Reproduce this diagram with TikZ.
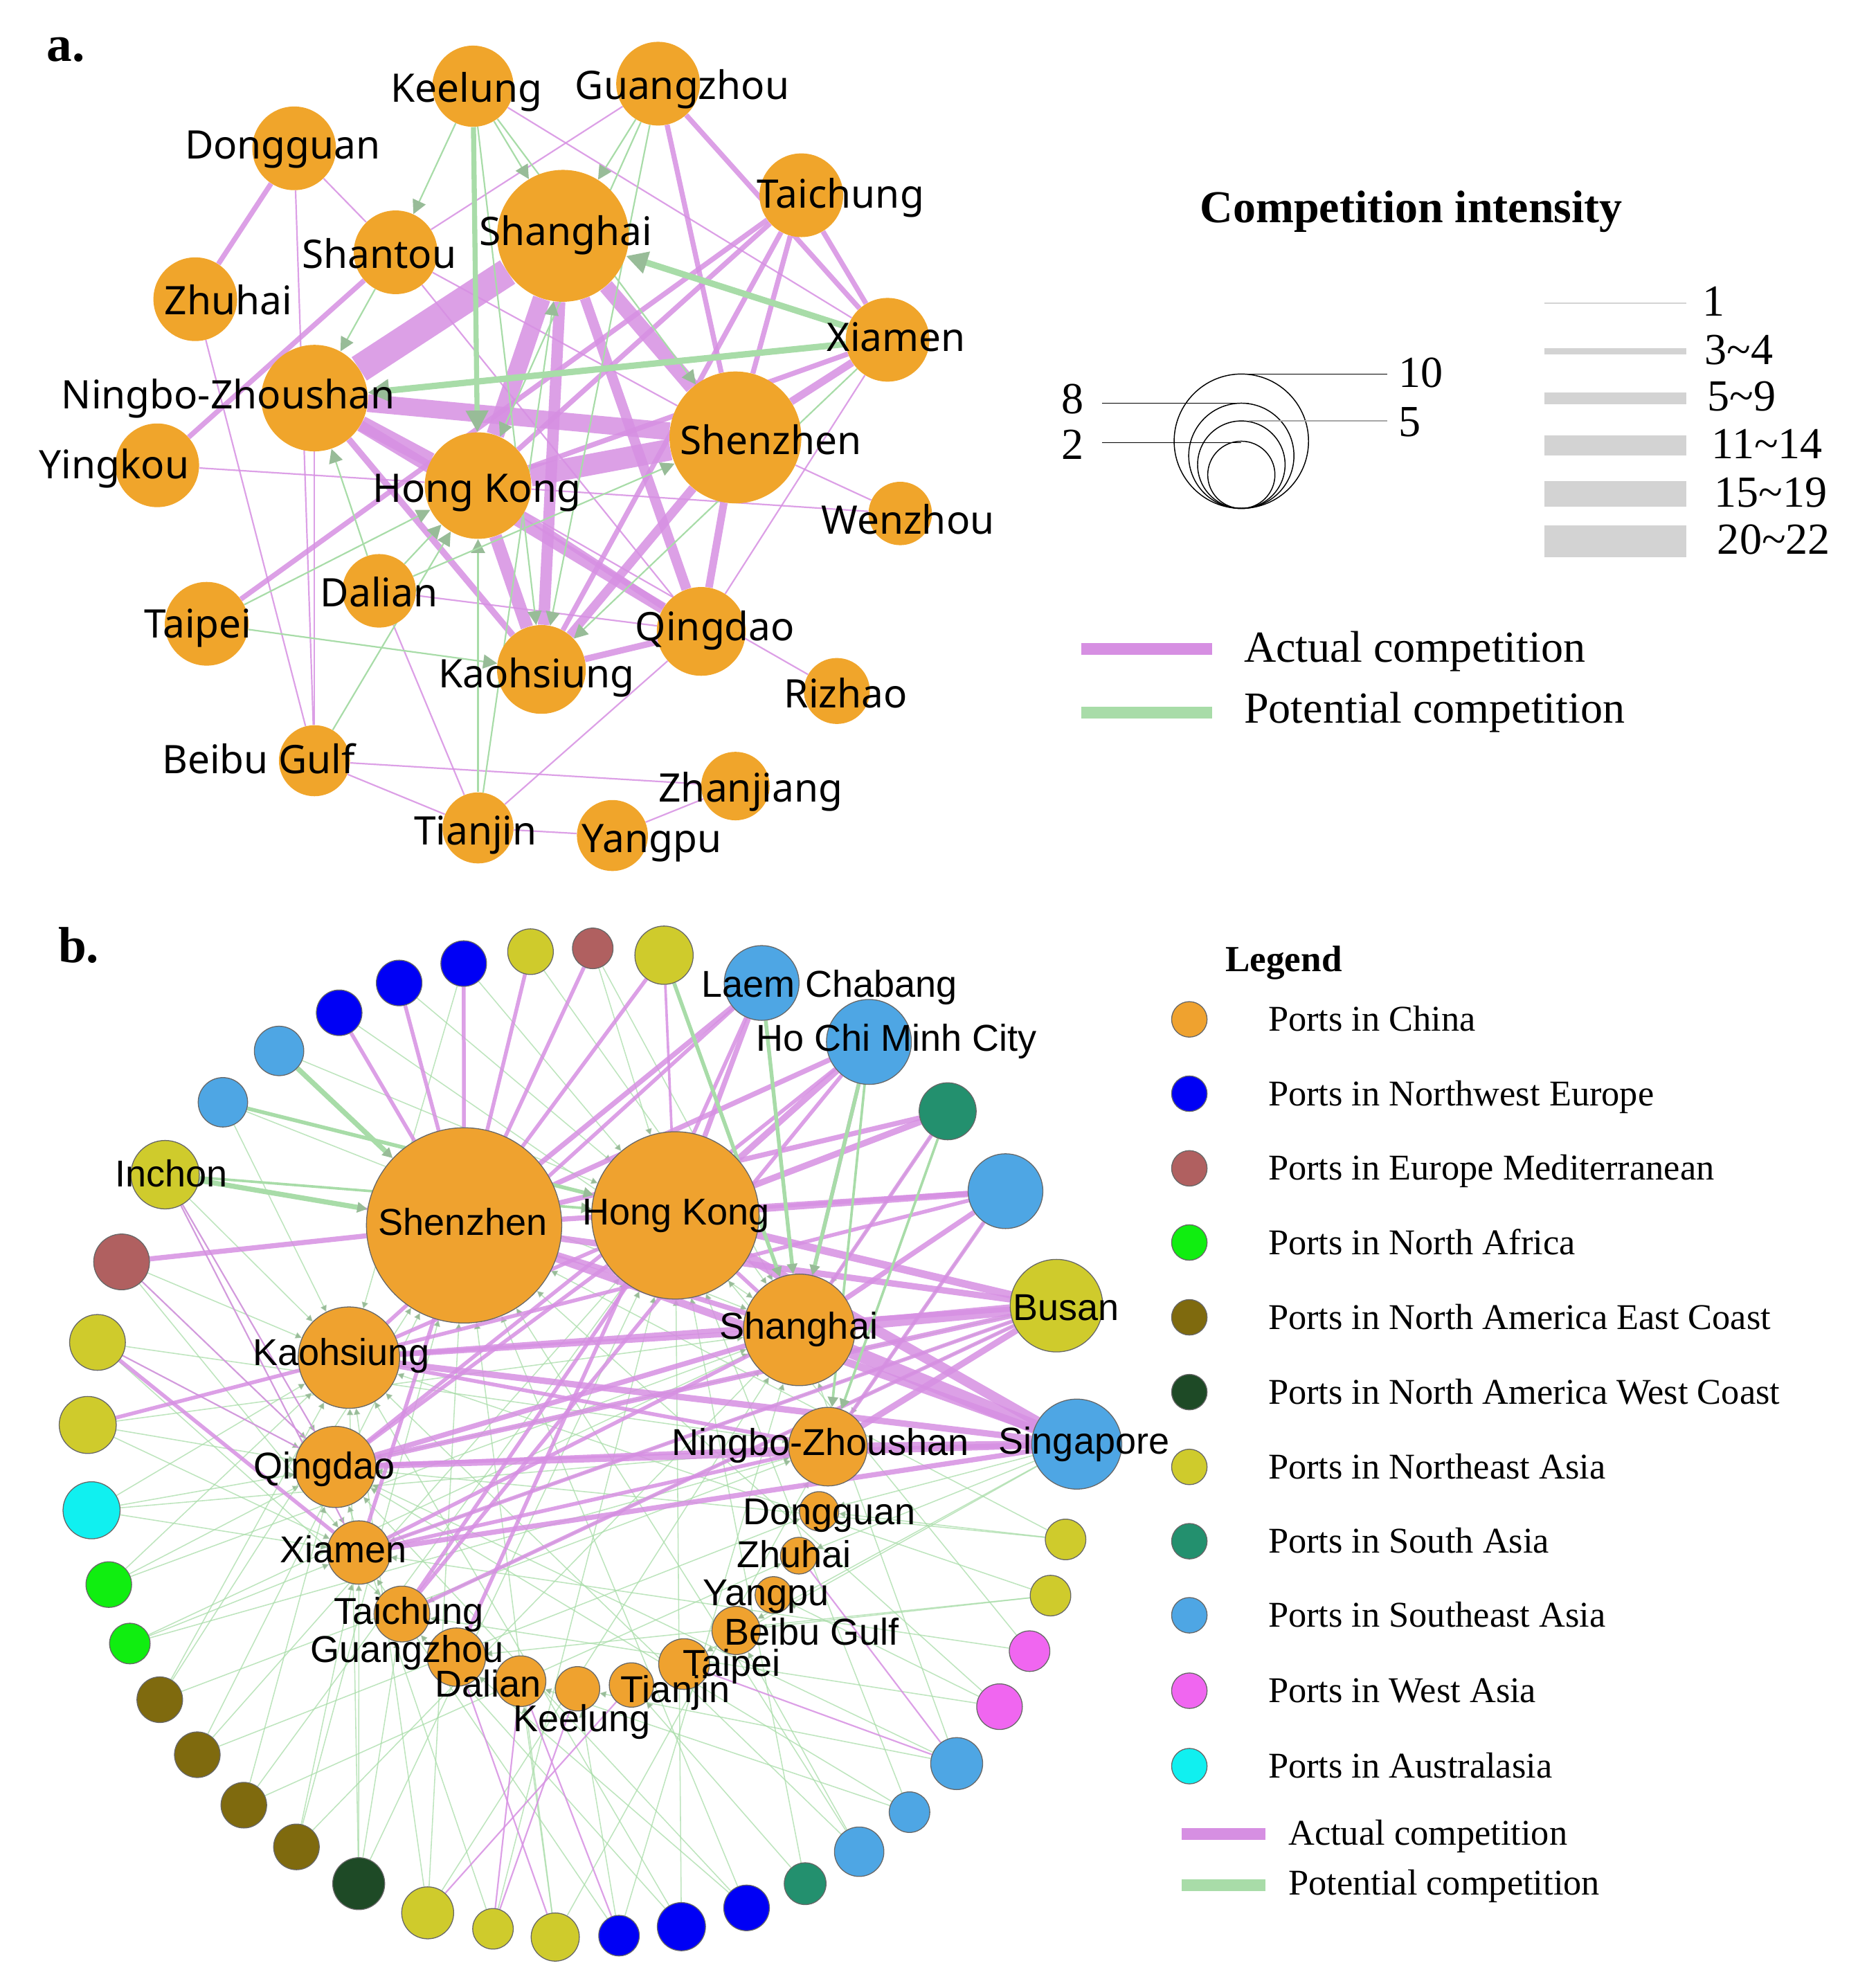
\documentclass[tikz,border=0pt]{standalone}
\usepackage{fontspec}
\setmainfont{Liberation Serif}
\newfontfamily\labelfont{Noto Sans}
\newfontfamily\portfont{Liberation Sans}
\usetikzlibrary{arrows.meta,backgrounds}

\definecolor{portorange}{HTML}{F0A52B}
\definecolor{actpurple}{HTML}{D68FE2}
\definecolor{potgreen}{HTML}{A8DCA8}
\definecolor{tipgreen}{HTML}{98BC98}
\definecolor{legendgray}{HTML}{D3D3D3}
\definecolor{cCN}{HTML}{EFA22F}
\definecolor{cNW}{HTML}{0000F5}
\definecolor{cMED}{HTML}{B06060}
\definecolor{cNAF}{HTML}{10EE10}
\definecolor{cNAE}{HTML}{7F6A0E}
\definecolor{cNAW}{HTML}{1E4A26}
\definecolor{cNEA}{HTML}{CFCB2C}
\definecolor{cSA}{HTML}{23906E}
\definecolor{cSEA}{HTML}{4EA6E4}
\definecolor{cWA}{HTML}{F066F0}
\definecolor{cAUS}{HTML}{10F0F0}

\begin{document}
\begin{tikzpicture}[x=1pt,y=-1pt,
  aport/.style={circle,fill=portorange,inner sep=0pt,minimum size=#1},
  bport/.style={circle,draw=black!60,line width=0.7,inner sep=0pt,minimum size=#1},
  alabel/.style={font=\labelfont\fontsize{31}{36}\selectfont,anchor=mid,inner sep=0pt,yshift=-8pt},
  blabel/.style={font=\portfont\fontsize{29.5}{34}\selectfont,anchor=mid,inner sep=0pt,yshift=-8pt},
  legtext/.style={font=\fontsize{35}{40}\selectfont,anchor=mid west,inner sep=0pt,yshift=-8pt},
  legbtext/.style={font=\fontsize{28.6}{33}\selectfont,anchor=mid west,inner sep=0pt,yshift=-7pt},
  act/.style={draw=actpurple,draw opacity=0.85},
  pot/.style={draw=potgreen},
  atip/.style={-{Triangle[length=#1,width=#1,color=tipgreen]}}]

  \useasboundingbox (0,0) rectangle (1472.3,1568);

  % ---------------- panel a ----------------
  \node[font=\bfseries\fontsize{40}{44}\selectfont,anchor=mid,yshift=-8pt] (alab) at (52,38) {a.};

  \foreach \n/\x/\y/\d in {aKE/373/68/64, aGZ/519/66/66, aDG/232/117/66, aTC/632/154/66,
      aSH/444/186/104, aST/312/199/66, aZH/154/236/66, aXM/700/268/66, aNZ/248/314/84,
      aSZ/580/345/104, aYK/124/367/66, aHK/377/383/84, aWZ/710/405/50, aDL/299/466/58,
      aTP/163/492/66, aQD/553/498/70, aKH/427/528/70, aRZ/660/545/52, aBG/248/600/56,
      aZJ/580/620/54, aTJ/377/653/56, aYP/483/659/56}
    \node[aport=\d] (\n) at (\x,\y) {};

  \begin{scope}[on background layer]
    % actual competition
    \foreach \s/\t/\w in {aSH/aNZ/22, aHK/aSZ/17, aNZ/aSZ/14, aSH/aHK/14, aNZ/aHK/12,
        aSH/aSZ/12, aHK/aKH/10, aSH/aKH/9, aNZ/aQD/9, aSH/aQD/8, aSZ/aKH/7, aSZ/aQD/6,
        aXM/aSZ/6, aHK/aQD/5, aNZ/aKH/5, aKH/aQD/5, aXM/aHK/4, aTC/aHK/4, aTC/aSZ/4,
        aTC/aKH/4, aTC/aXM/4, aGZ/aSZ/4, aGZ/aXM/4, aDG/aZH/4, aYK/aST/4, aTP/aTC/4}
      \draw[act,line width=\w] (\s) -- (\t);
    \foreach \s/\t in {aDG/aBG, aDG/aST, aZH/aBG, aNZ/aBG, aYK/aHK, aKE/aXM, aGZ/aST,
        aST/aSZ, aST/aQD, aSZ/aWZ, aHK/aWZ, aHK/aRZ, aXM/aQD, aQD/aTJ, aDL/aQD, aDL/aTJ,
        aBG/aZJ, aBG/aTJ, aTJ/aYP, aYP/aZJ}
      \draw[act,line width=1.2] (\s) -- (\t);
    % potential competition
    \foreach \s/\t/\w in {aXM/aSH/5, aXM/aNZ/5, aKE/aHK/4}
      \draw[pot,line width=\w,atip=17pt] (\s) -- (\t);
    \foreach \s/\t in {aKE/aSH, aGZ/aSH, aGZ/aHK, aGZ/aKH, aKE/aKH, aKE/aST, aST/aNZ,
        aKE/aSZ, aTJ/aSH, aDL/aNZ, aDL/aHK, aTP/aHK, aBG/aHK, aTJ/aHK, aDL/aSZ,
        aTP/aKH, aXM/aKH}
      \draw[pot,line width=1.2,atip=11pt] (\s) -- (\t);
  \end{scope}

  \foreach \n/\x/\y/\t in {aKE/368/70/Keelung, aGZ/538/68/Guangzhou, aDG/223/115/Dongguan,
      aTC/663/154/Taichung, aSH/446/183/Shanghai, aST/299/201/Shantou, aZH/180/238/Zhuhai,
      aXM/707/267/Xiamen, aNZ/180/312/Ningbo-Zhoushan, aSZ/608/348/Shenzhen,
      aYK/90/367/Yingkou, aHK/376/386/Hong Kong, aWZ/716/411/Wenzhou, aDL/299/468/Dalian,
      aTP/156/493/Taipei, aQD/564/495/Qingdao, aKH/423/532/Kaohsiung, aRZ/667/548/Rizhao,
      aBG/204/600/Beibu Gulf, aZJ/592/622/Zhanjiang, aTJ/375/656/Tianjin, aYP/514/662/Yangpu}
    \node[alabel] (\n-l) at (\x,\y) {\t};

  % ---------------- legend a ----------------
  \node[font=\bfseries\fontsize{36}{40}\selectfont,anchor=mid,yshift=-8pt] (cint) at (1113,165) {Competition intensity};

  % node size
  \foreach \r in {53,41.5,34.5,26.5}
    \draw[line width=0.8] (979,401-\r) circle[radius=\r pt];
  \draw[line width=0.8] (979,295) -- (1094,295);
  \draw[line width=0.8] (869,318) -- (985,318);
  \draw[line width=0.8,black!35] (985,332) -- (1094,332);
  \draw[line width=0.8] (869,349) -- (979,349);
  \node[legtext] (s10) at (1103,295) {10};
  \node[legtext] (s5) at (1103,334) {5};
  \node[legtext,anchor=mid] (s8) at (846,316) {8};
  \node[legtext,anchor=mid] (s2) at (846,352) {2};

  % edge width
  \foreach \y/\w/\t in {239/1.2/1, 277/4.7/3\textasciitilde4, 314/9.4/5\textasciitilde9,
      351.5/15.7/11\textasciitilde14, 389.6/20/15\textasciitilde19, 427/25/20\textasciitilde22}
    \draw[legendgray,line width=\w] (1218,\y) -- (1330,\y)
      node[legtext,black,at end,xshift=12pt] {\t};

  % edge type
  \draw[actpurple,line width=9.4] (853,512) -- (956,512);
  \draw[potgreen,line width=9.4] (853,562) -- (956,562);
  \node[legtext] (tact) at (981,512) {Actual competition};
  \node[legtext] (tpot) at (981,560) {Potential competition};

  % ---------------- panel b ----------------
  \node[font=\bfseries\fontsize{40}{44}\selectfont,anchor=mid,yshift=-8pt] (blab) at (62,749) {b.};

  % outer ring of foreign ports
  \foreach \n/\x/\y/\d/\c in {r1/523.7/753.4/46/cNEA, r2/467.5/748/32/cMED,
      r3/418.4/750.6/36/cNEA, r4/365.7/760/36/cNW, r5/314.8/775.3/36/cNW,
      r6/267.5/798.8/36/cNW, r7/220.1/828.9/39/cSEA, r8/175.8/869.4/39/cSEA,
      r9/130.2/926.5/54/cNEA, r10/95.9/995.3/44/cMED, r11/76.9/1058.8/44/cNEA,
      r12/69.2/1123.9/45/cNEA, r13/72.2/1191.2/45/cAUS, r14/85.8/1249.8/36/cNAF,
      r15/102.4/1296.3/32/cNAF, r16/126/1340.6/36/cNAE, r17/155.6/1384/36/cNAE,
      r18/192.3/1423.8/36/cNAE, r19/233.8/1456.7/36/cNAE, r20/282.9/1485.7/41/cNAW,
      r21/337.3/1508.7/41/cNEA, r22/388.8/1521.3/32/cNEA, r23/437.9/1527.8/38/cNEA,
      r24/488.2/1526.7/32/cNW, r25/537.4/1519.6/38/cNW, r26/588.8/1504.8/36/cNW,
      r27/635/1485.7/33/cSA, r28/677.6/1460.5/39/cSEA, r29/717.3/1429.3/32/cSEA,
      r30/754.5/1391/41/cSEA, r31/788.3/1346.1/36/cWA, r32/812/1302.3/32/cWA,
      r33/828.5/1258.5/32/cNEA, r34/840.4/1214.2/32/cNEA, r35/849.2/1139/71/cSEA,
      r36/833.2/1029.8/73/cNEA, r37/793/939.5/59/cSEA, r38/747.4/876.5/45/cSA,
      r39/685.3/821.8/67/cSEA, r40/600.7/775.3/59/cSEA}
    \node[bport=\d,fill=\c] (\n) at (\x,\y) {};

  % ports in China
  \foreach \n/\x/\y/\d in {bSZ/366/966.5/154, bHK/532.6/958.6/132, bSH/630.3/1048.9/88,
      bKH/275.2/1070.8/80, bNZ/653/1141/62, bQD/264.5/1157/64, bXM/283/1224.5/50,
      bTC/317/1273/44, bGZ/360/1307/46, bDL/410.5/1326/40, bKE/455.5/1332/35,
      bTJ/498/1329/35, bTP/539.5/1312.5/40, bBG/580.5/1286/38, bYP/610/1258/29,
      bZH/630/1227/29, bDG/646/1192/31}
    \node[bport=\d,fill=cCN] (\n) at (\x,\y) {};

  \begin{scope}[on background layer]
    % potential competition, thin
    \foreach \s/\tl in {r2/{bHK,bSH}, r3/{bSH}, r4/{bKH,bHK}, r5/{bHK}, r6/{bSH},
        r7/{bHK}, r8/{bSH,bKH}, r9/{bKH,bQD,bXM}, r10/{bQD,bXM,bKH}, r11/{bQD,bNZ,bTC},
        r12/{bQD,bXM,bSH}, r13/{bKH,bQD,bNZ,bXM}, r14/{bQD,bSH,bKH}, r15/{bXM,bSH,bNZ},
        r16/{bSZ,bKH,bNZ}, r17/{bSZ,bHK,bDG}, r18/{bHK,bQD,bZH}, r19/{bSZ,bSH,bXM},
        r20/{bHK,bKH,bXM,bTC}, r21/{bSH,bKH,bSZ}, r22/{bHK,bQD}, r23/{bSZ,bNZ,bDL},
        r24/{bSH,bXM,bKE}, r25/{bHK,bKH,bTC}, r26/{bSZ,bGZ,bQD}, r27/{bHK,bTJ},
        r28/{bSZ,bKH,bBG}, r29/{bHK,bDL,bQD}, r30/{bQD,bSH,bKE}, r31/{bSZ,bTC,bYP},
        r32/{bHK,bXM}, r33/{bKH,bBG,bGZ}, r34/{bQD,bSZ,bDG}, r35/{bDG,bZH,bBG,bTP},
        r36/{bXM,bTC,bQD}, r37/{bNZ}, r38/{bSH}}
      \foreach \t in \tl
        \draw[pot,line width=0.85,draw opacity=0.75,atip=5pt] (\s) -- (\t);
    % actual competition
    \foreach \s/\t/\w in {bSH/r35/11, bSH/r36/9, bHK/r35/8, bHK/r36/6, bSZ/r35/6,
        bSZ/r36/5, bNZ/r35/6, bNZ/r36/5, bKH/r35/5, bKH/r36/4, bQD/r35/5, bQD/r36/4,
        bXM/r35/4, bXM/r36/3, bTC/r36/3, bSZ/r40/4, bHK/r40/4, bKH/r40/3, bSZ/r39/4,
        bHK/r39/5, bSH/r39/3, bQD/r39/3, bTC/r39/3, bGZ/r40/3, bSZ/r38/4, bHK/r38/5,
        bSH/r38/3, bSZ/r37/4, bHK/r37/5, bSH/r37/4, bNZ/r37/3, bKH/r37/3, bSZ/bSH/4,
        bHK/bSH/3, bKH/bSH/4, bKH/bHK/3, bQD/bSH/4, bQD/bHK/3, bXM/bNZ/3, bKH/bNZ/3,
        bQD/bNZ/3, bXM/bSH/3, bSZ/bXM/3, bHK/bTC/3, bSZ/r1/3, bHK/r1/2, bSZ/r2/3,
        bSZ/r3/3, bSZ/r4/3, bSZ/r5/3, bSZ/r6/3, bSZ/r10/4, bKH/r12/3, bXM/r11/3, bSZ/r9/2}
      \draw[act,line width=\w] (\s) -- (\t);
    \foreach \s/\t in {bQD/r9, bXM/r9, bQD/r11, bKE/r22, bGZ/r23, bTJ/r21, bDL/r24,
        bTP/r30, bZH/r30, bQD/r10, bDL/r22}
      \draw[act,line width=1.2] (\s) -- (\t);
    % potential competition, wide
    \foreach \s/\t/\w in {r7/bSZ/4, r8/bHK/3, r9/bSZ/4, r9/bHK/2, r1/bSH/3, r40/bSH/3,
        r39/bSH/3, r39/bNZ/2, r38/bNZ/2}
      \draw[pot,line width=\w,atip=8pt] (\s) -- (\t);
  \end{scope}

  \foreach \n/\x/\y/\t in {bSZ/365/964/Shenzhen, bHK/533/956/Hong Kong, bSH/630/1046/Shanghai,
      bKH/269/1066.5/Kaohsiung, bNZ/647/1137.6/Ningbo-Zhoushan, bQD/256/1156/Qingdao,
      bXM/271/1222/Xiamen, bTC/322.5/1271/Taichung, bGZ/321/1301/Guangzhou,
      bDL/385/1328/Dalian, bKE/459/1355.5/Keelung, bTJ/532.6/1332.5/Tianjin,
      bTP/577/1312/Taipei, bBG/640/1287/Beibu Gulf, bYP/604/1256/Yangpu,
      bZH/626/1226/Zhuhai, bDG/654/1192/Dongguan, r9/135/926/Inchon,
      r40/654/776.4/Laem Chabang, r39/707/819/Ho Chi Minh City, r36/841/1031/Busan,
      r35/855/1136.5/Singapore}
    \node[blabel] (\n-l) at (\x,\y) {\t};

  % ---------------- legend b ----------------
  \node[font=\bfseries\fontsize{29}{33}\selectfont,anchor=mid west,yshift=-7pt] (bleg) at (963,757) {Legend};
  \foreach \y/\c/\t [count=\i] in {804/cCN/Ports in China, 862.6/cNW/Ports in Northwest Europe,
      921.5/cMED/Ports in Europe Mediterranean, 980/cNAF/Ports in North Africa,
      1039/cNAE/Ports in North America East Coast, 1098/cNAW/Ports in North America West Coast,
      1157/cNEA/Ports in Northeast Asia, 1215.6/cSA/Ports in South Asia,
      1274/cSEA/Ports in Southeast Asia, 1333.5/cWA/Ports in West Asia,
      1393/cAUS/Ports in Australasia}
  {
    \node[bport=28,fill=\c] (leg\i) at (938,\y) {};
    \node[legbtext] (legt\i) at (1000,\y) {\t};
  }
  \draw[actpurple,line width=9.4] (932,1446.6) -- (998,1446.6);
  \draw[potgreen,line width=9.4] (932,1487) -- (998,1487);
  \node[legbtext] (bact) at (1016,1446) {Actual competition};
  \node[legbtext] (bpot) at (1016,1485) {Potential competition};
\end{tikzpicture}
\end{document}
